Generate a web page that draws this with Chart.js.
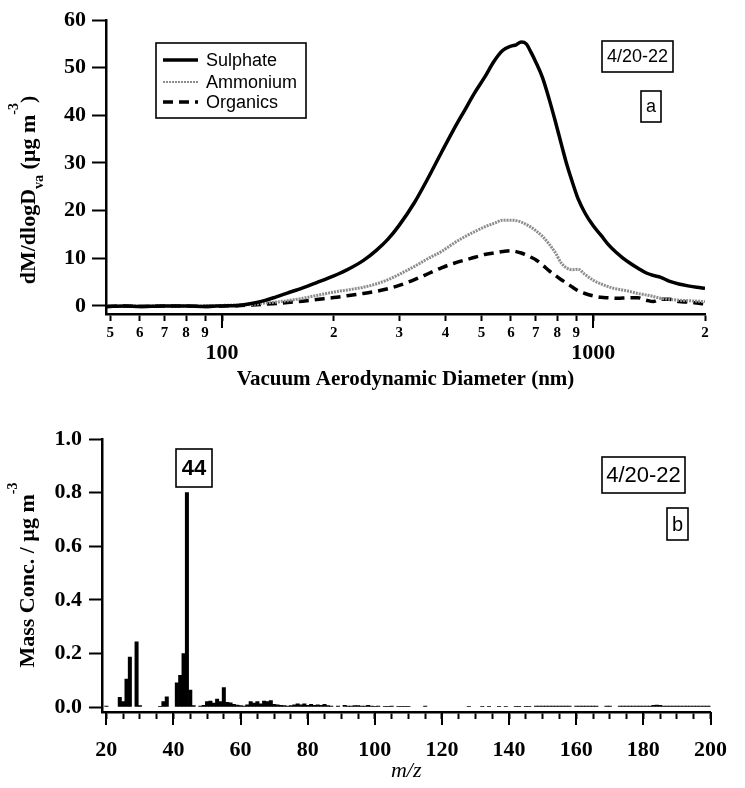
<!DOCTYPE html>
<html><head><meta charset="utf-8">
<script src="https://cdn.jsdelivr.net/npm/chart.js@4.4.1/dist/chart.umd.min.js"></script>
<style>
html,body{margin:0;padding:0;background:#fff;}
#wrap{position:relative;width:745px;height:788px;overflow:hidden;}
canvas{position:absolute;left:0;}
#c1{top:0;}
#c2{top:400px;}
</style></head><body>
<div id="wrap"><canvas id="c1" width="745" height="400"></canvas><canvas id="c2" width="745" height="388"></canvas></div>
<script>
// ---------- Panel a: size distributions ----------
const diameter = [49,55,60,70,80,90,100,110,120,130,140,150,165,180,200,220,240,260,280,300,330,360,390,420,450,480,510,540,570,600,620,640,660,680,700,730,760,790,820,850,880,910,950,1000,1050,1100,1150,1200,1260,1320,1390,1450,1520,1600,1700,1800,1900,2000];
const sulphate = [-0.1,0,-0.1,0,0,-0.1,0, 0.1,0.5,1.1,1.9,2.7, 3.8,4.9,6.3, 7.8,9.5,11.6,14.0,16.9, 21.7,27.0,32.2,36.9,41.0, 44.8,48.0,51.3,53.6,54.5, 54.8,55.4,55.0,53.2,51.2, 47.9,43.5,38.8,34.0,29.5, 25.8,22.5,19.5,16.8,14.8, 12.8,11.3,10.1,8.9,7.9, 6.9,6.4,6.0,5.2,4.6, 4.2,3.9,3.7];
const ammonium = [0,0,0,0,0,0,0.1, 0.2,0.3,0.6,0.8,1.1, 1.6,2.2,2.9, 3.4,3.9,4.6,5.5,6.6, 8.3,10.0,11.4,13.1,14.5, 15.6,16.6,17.3,18.0,18.0, 17.9,17.6,17.1,16.5,15.8, 14.6,13.0,11.2,9.0,7.9, 7.6,7.7,6.6,5.4,4.6, 4.0,3.6,3.35,3.0,2.6, 2.3,2.0,1.6,1.4,1.2, 1.1,1.0,0.9];
const organics = [-0.1,0,-0.1,0,0,-0.1,0, 0.05,0.2,0.35,0.5,0.7, 1.0,1.35,1.75, 2.2,2.6,3.05,3.6,4.3, 5.5,6.8,8.0,8.9,9.6, 10.2,10.8,11.1,11.4,11.6, 11.4,11.1,10.7,10.2,9.7, 8.6,7.4,6.4,5.5,4.7, 3.9,3.2,2.6,2.1,1.8, 1.7,1.6,1.65,1.7,1.7, 1.2,0.9,1.4,1.4,0.9, 0.8,0.6,0.4];
const sizeTickValues = [50,60,70,80,90,100,200,300,400,500,600,700,800,900,1000,2000];
const sizeTickLabels = ['5','6','7','8','9',['','100'],'2','3','4','5','6','7','8','9',['','1000'],'2'];
const sizeMajorTicks = [100,1000];
const massTickValues = [0,10,20,30,40,50,60];

// ---------- Panel b: organic mass spectrum ----------
const mz = [20,24,25,26,27,29,30,36,37,38,41,42,43,44,45,46,48,49,50,51,52,53,54,55,56,57,58,59,60,61,62,63,64,65,66,67,68,69,70,71,72,73,74,75,76,77,78,79,80,81,82,83,84,85,86,87,89,91,92,93,94,95,96,97,98,99,100,101,103,104,105,107,108,109,110,115,128,132,134,137,139,142,143,145,146,148,149,150,151,152,153,154,155,156,157,158,160,161,162,163,164,165,166,169,170,173,174,175,176,177,178,179,180,181,182,183,184,185,186,187,188,189,190,191,192,193,194,195,196,197,198,199,200];
const massConc = [0.004,0.036,0.02,0.104,0.186,0.243,0.005,0.003,0.02,0.038,0.09,0.118,0.199,0.80,0.063,0.005,0.004,0.006,0.02,0.022,0.015,0.03,0.02,0.073,0.018,0.016,0.01,0.007,0.005,0.004,0.008,0.02,0.015,0.02,0.012,0.022,0.02,0.024,0.01,0.008,0.006,0.005,0.004,0.005,0.008,0.012,0.008,0.012,0.006,0.01,0.006,0.008,0.006,0.01,0.005,0.004,0.004,0.006,0.004,0.004,0.005,0.005,0.004,0.004,0.006,0.004,0.003,0.004,0.003,0.003,0.004,0.003,0.003,0.003,0.003,0.004,0.003,0.003,0.003,0.003,0.003,0.003,0.003,0.003,0.003,0.004,0.004,0.004,0.004,0.004,0.004,0.004,0.004,0.004,0.004,0.004,0.004,0.004,0.004,0.004,0.004,0.004,0.004,0.004,0.004,0.004,0.004,0.004,0.004,0.004,0.004,0.004,0.004,0.004,0.004,0.006,0.007,0.006,0.004,0.004,0.004,0.004,0.004,0.004,0.004,0.004,0.004,0.004,0.004,0.004,0.004,0.004,0.004];
const mzTickValues = [20,25,30,35,40,45,50,55,60,65,70,75,80,85,90,95,100,105,110,115,120,125,130,135,140,145,150,155,160,165,170,175,180,185,190,195,200];
const mzMajorTicks = [20,40,60,80,100,120,140,160,180,200];
const concTickValues = [0,0.2,0.4,0.6,0.8,1.0];

const SERIF = "'Liberation Serif', 'Times New Roman', serif";
const SANS = "'Liberation Sans', Arial, sans-serif";

// ---------- helper plugins ----------
const majorTicksPlugin = {
  id: 'majorTicks',
  afterDraw(chart, args, opts) {
    const xs = chart.scales.x, ctx = chart.ctx, b = chart.chartArea.bottom;
    ctx.save(); ctx.strokeStyle = '#000'; ctx.lineWidth = 2;
    opts.values.forEach(v => {
      const px = Math.round(xs.getPixelForValue(v));
      ctx.beginPath(); ctx.moveTo(px, b); ctx.lineTo(px, b + opts.len); ctx.stroke();
    });
    ctx.restore();
  }
};
const yTitlePlugin = {
  id: 'yTitle',
  afterDraw(chart, args, opts) {
    const ctx = chart.ctx;
    ctx.save();
    ctx.translate(opts.x, opts.y); ctx.rotate(-Math.PI / 2);
    let total = 0;
    opts.segs.forEach(s => { ctx.font = s.font; s.w = ctx.measureText(s.t).width; total += s.w; });
    let x = -total / 2;
    ctx.fillStyle = '#000'; ctx.textAlign = 'left'; ctx.textBaseline = 'alphabetic';
    opts.segs.forEach(s => { ctx.font = s.font; ctx.fillText(s.t, x, s.dy || 0); x += s.w; });
    ctx.restore();
  }
};
const boxesPlugin = {
  id: 'boxes',
  afterDraw(chart, args, opts) {
    const ctx = chart.ctx;
    ctx.save();
    opts.items.forEach(b => {
      ctx.lineWidth = 1.6; ctx.strokeStyle = '#000';
      ctx.strokeRect(b.x1, b.y1, b.x2 - b.x1, b.y2 - b.y1);
      ctx.font = b.font; ctx.fillStyle = '#000'; ctx.textAlign = 'center'; ctx.textBaseline = 'middle';
      ctx.fillText(b.text, (b.x1 + b.x2) / 2, (b.y1 + b.y2) / 2 + 1);
    });
    ctx.restore();
  }
};
const boxLegendPlugin = {
  id: 'boxLegend',
  afterDraw(chart, args, opts) {
    const ctx = chart.ctx;
    ctx.save();
    ctx.lineWidth = 1.6; ctx.strokeStyle = '#000';
    ctx.strokeRect(opts.x1, opts.y1, opts.x2 - opts.x1, opts.y2 - opts.y1);
    chart.data.datasets.forEach((ds, i) => {
      const y = opts.rows[i];
      ctx.beginPath(); ctx.strokeStyle = ds.borderColor; ctx.lineWidth = Math.min(ds.borderWidth, i === 1 ? 2 : 4);
      ctx.setLineDash(ds.borderDash || []);
      ctx.moveTo(opts.lineX1, y); ctx.lineTo(opts.lineX2, y); ctx.stroke();
      ctx.setLineDash([]);
      ctx.fillStyle = '#000'; ctx.font = opts.font; ctx.textAlign = 'left'; ctx.textBaseline = 'middle';
      ctx.fillText(ds.label, opts.textX, y + 1);
    });
    ctx.restore();
  }
};

// ---------- Chart a ----------
new Chart(document.getElementById('c1'), {
  type: 'line',
  data: { datasets: [
    { label: 'Sulphate', data: diameter.map((d, i) => ({ x: d, y: sulphate[i] })), borderColor: '#000', borderWidth: 3.5, pointRadius: 0, cubicInterpolationMode: 'monotone' },
    { label: 'Ammonium', data: diameter.map((d, i) => ({ x: d, y: ammonium[i] })), borderColor: '#8c8c8c', borderWidth: 3, borderDash: [2, 1], pointRadius: 0, cubicInterpolationMode: 'monotone' },
    { label: 'Organics', data: diameter.map((d, i) => ({ x: d, y: organics[i] })), borderColor: '#000', borderWidth: 3.5, borderDash: [10, 6], pointRadius: 0, cubicInterpolationMode: 'monotone' }
  ]},
  options: {
    responsive: false, animation: false, events: [],
    layout: { padding: { top: 20, right: 40, left: 0, bottom: 0 } },
    scales: {
      x: {
        type: 'logarithmic', min: 48.7, max: 2000,
        afterBuildTicks(s) { s.ticks = sizeTickValues.map(v => ({ value: v })); },
        afterFit(s) { s.height = 86; },
        ticks: {
          autoSkip: false, maxRotation: 0, minRotation: 0, padding: 3, color: '#000',
          callback(v, i) { return sizeTickLabels[i]; },
          font(ctx) {
            const major = ctx.tick && sizeMajorTicks.includes(ctx.tick.value);
            return major ? { family: SERIF, size: 22, weight: 'bold', lineHeight: 0.9 } : { family: SERIF, size: 15, weight: 'bold', lineHeight: 1.2 };
          }
        },
        grid: { drawOnChartArea: false, drawTicks: true, tickLength: 7, tickWidth: 2, tickColor: '#000' },
        border: { display: true, color: '#000', width: 2.5 },
        title: { display: true, text: 'Vacuum Aerodynamic Diameter (nm)', color: '#000', font: { family: SERIF, size: 21, weight: 'bold' }, padding: { top: 0, bottom: 8 } }
      },
      y: {
        type: 'linear', min: -1.7, max: 60,
        afterBuildTicks(s) { s.ticks = massTickValues.map(v => ({ value: v })); },
        afterFit(s) { s.width = 106; },
        ticks: { autoSkip: false, padding: 6, color: '#000', font: { family: SERIF, size: 22, weight: 'bold' }, callback: v => String(v) },
        grid: { drawOnChartArea: false, drawTicks: true, tickLength: 14, tickWidth: 2, tickColor: '#000' },
        border: { display: true, color: '#000', width: 2.5 }
      }
    },
    plugins: {
      legend: { display: false }, tooltip: { enabled: false },
      majorTicks: { values: sizeMajorTicks, len: 14 },
      yTitle: { x: 35, y: 190, segs: [
        { t: 'dM/dlogD', font: "bold 22px " + SERIF },
        { t: 'va', font: "bold 14px " + SERIF, dy: 8 },
        { t: ' (\u00b5g m', font: "bold 22px " + SERIF },
        { t: '-3', font: "bold 14px " + SERIF, dy: -17 },
        { t: ')', font: "bold 22px " + SERIF }
      ]},
      boxes: { items: [
        { text: '4/20-22', font: '18px ' + SANS, x1: 602, y1: 41, x2: 673, y2: 72 },
        { text: 'a', font: '18px ' + SANS, x1: 641, y1: 91, x2: 661, y2: 122 }
      ]},
      boxLegend: { x1: 156, y1: 43, x2: 306, y2: 118, rows: [60, 82, 102], lineX1: 163, lineX2: 198, textX: 206, font: '18px ' + SANS }
    }
  },
  plugins: [majorTicksPlugin, yTitlePlugin, boxesPlugin, boxLegendPlugin]
});

// ---------- Chart b ----------
new Chart(document.getElementById('c2'), {
  type: 'bar',
  data: { datasets: [
    { label: 'Organics', data: mz.map((m, i) => ({ x: m, y: massConc[i] })), backgroundColor: '#000', borderWidth: 0, barPercentage: 1.0, categoryPercentage: 1.0 }
  ]},
  options: {
    responsive: false, animation: false, events: [],
    layout: { padding: { top: 39, right: 19, left: 0, bottom: 0 } },
    scales: {
      x: {
        type: 'linear', min: 18.7, max: 200, offset: false,
        afterBuildTicks(s) { s.ticks = mzTickValues.map(v => ({ value: v })); },
        afterFit(s) { s.height = 76; },
        ticks: {
          autoSkip: false, maxRotation: 0, minRotation: 0, padding: 18, color: '#000',
          font: { family: SERIF, size: 22, weight: 'bold' },
          callback(v) { return mzMajorTicks.includes(v) ? String(v) : ''; }
        },
        grid: { offset: false, drawOnChartArea: false, drawTicks: true, tickLength: 7, tickWidth: 2, tickColor: '#000' },
        border: { display: true, color: '#000', width: 2.5 },
        title: { display: true, text: 'm/z', color: '#000', font: { family: SERIF, size: 22, style: 'italic' }, padding: { top: 0, bottom: 4 } }
      },
      y: {
        type: 'linear', min: -0.0185, max: 1.0,
        afterBuildTicks(s) { s.ticks = concTickValues.map(v => ({ value: v })); },
        afterFit(s) { s.width = 102; },
        ticks: { autoSkip: false, padding: 7, color: '#000', font: { family: SERIF, size: 22, weight: 'bold' }, callback: v => Number(v).toFixed(1) },
        grid: { drawOnChartArea: false, drawTicks: true, tickLength: 13, tickWidth: 2, tickColor: '#000' },
        border: { display: true, color: '#000', width: 2.5 }
      }
    },
    plugins: {
      legend: { display: false }, tooltip: { enabled: false },
      majorTicks: { values: mzMajorTicks, len: 13 },
      yTitle: { x: 34, y: 175, segs: [
        { t: 'Mass Conc. / \u00b5g m', font: "bold 22px " + SERIF },
        { t: '-3', font: "bold 14px " + SERIF, dy: -17 }
      ]},
      boxes: { items: [
        { text: '44', font: 'bold 22px ' + SANS, x1: 176, y1: 49, x2: 212, y2: 87 },
        { text: '4/20-22', font: '22px ' + SANS, x1: 602, y1: 57, x2: 685, y2: 93 },
        { text: 'b', font: '20px ' + SANS, x1: 667, y1: 108, x2: 688, y2: 140 }
      ]}
    }
  },
  plugins: [majorTicksPlugin, yTitlePlugin, boxesPlugin]
});
</script>
</body></html>
